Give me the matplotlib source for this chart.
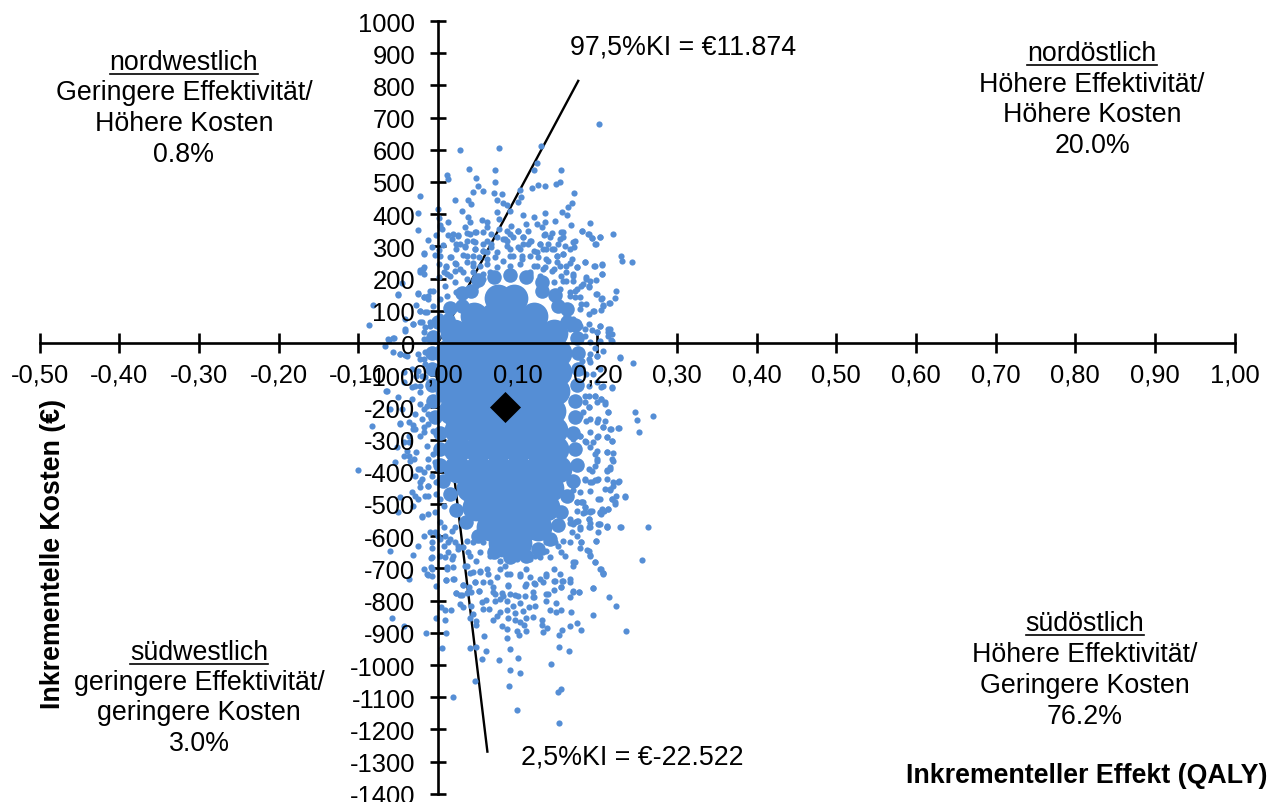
import matplotlib
matplotlib.use("Agg")
import matplotlib.pyplot as plt
from matplotlib.lines import Line2D

plt.rcParams['font.family'] = ['Liberation Sans', 'DejaVu Sans']

W, H = 1284, 803
BLUE = '#558ED5'

x_ticks = [-0.5, -0.4, -0.3, -0.2, -0.1, 0.0, 0.1, 0.2, 0.3, 0.4, 0.5, 0.6, 0.7, 0.8, 0.9, 1.0]
y_ticks = list(range(-1400, 1001, 100))
mean_point = (0.084, -199)
upper_ci = (0.176, 814)
lower_ci = (0.062, -1269)

north_points = [
    (.2015,680),(.129,613),(.0765,605),(.027,600),(.011,522),(.012,510),(.039,540),(.072,536),(.124,560),(.121,536),
    (.154,536),(.048,511),(.072,499),(.153,501),(.148,495),(.118,481),(.125,490),(.134,487),(.05,487),(.044,468),
    (.057,473),(.07,466),(.08,464),(.103,475),(-.023,458),(.021,445),(.038,445),(.041,433),(.074,443),(.081,435),
    (.104,452),(.101,437),(.086,429),(.171,467),(.168,436),(.163,423),(.156,408),(.162,396),(0,416),(-.025,405),
    (.03,411),(.09,411),(.074,406),(.134,403),(.107,397),(.001,389),(.012,377),(.038,390),(.055,383),(.076,385),
    (.12,390),(.147,378),(.167,367),(.191,374),(.181,348),(.188,337),(.193,327),(.203,329),(.22,338),(.197,306),
    (.23,270),(.231,254),(.244,252),(-.025,352),(.003,367),(.005,354),(.012,334),(-.003,336),(-.012,320),(-.008,297),
    (.006,305),(.001,290),(-.017,277),(-.004,273),(.003,271),(.001,246),(-.017,235),(-.023,226),(-.018,215),(.01,237),
    (.001,204),(-.045,186),(-.05,150),(-.082,118),(-.086,57),(-.025,155),(-.017,142),(-.027,119),(-.023,100),(-.02,64),
    (-.041,75),(-.031,59),(-.041,38),(-.066,-10),(-.061,9),(-.055,14),(.206,244),(.196,240),(.184,252),(.206,213),
    (.198,197),(.224,161),(.199,151),(.206,139),(.222,141),(.215,123),(.207,119),(.204,104),(.196,99),(.19,89),
    (.178,106),(.216,43),(.214,35),(.203,52),(.199,33),(.217,10),
    (.019,337),(.025,335),(.036,342),(.046,344),(.04,377),(.061,375),(.061,359),(.076,354),(.086,349),(.092,364),
    (.101,349),(.111,369),(.124,369),(.13,359),(.134,375),(.143,342),(.133,335),(.155,344),(.153,323),(.17,313),
    (.166,292),(.145,292),(.149,271),(.157,276),(.166,250),(.174,235),(.161,219),(.17,209),(.186,199),(.189,178),
    (.18,178),(.172,162),(.178,142),(.166,147),(.157,194),(.153,240),(.136,292),(.128,307),(.117,318),(.107,328),
    (.094,328),(.084,323),(.074,328),(.061,318),(.044,318),(.034,302),(.023,307),(.015,266),(.021,250),(.028,230),
    (.015,209),(.021,188),(.009,178),(-.006,162),(-.012,147),(.003,137),(.011,147),(-.006,116),(-.014,95),(.003,85),
    (-.01,64),(-.018,33),(.007,219),(.036,271),(.046,292),(.053,240),(.044,250),(.067,297),(.057,287),(.086,302),
    (.103,292),(.113,307),(.124,282),(.138,256),(.145,230),(.132,230),(.12,240),(.105,261),(.09,271),(.074,282),
    (.061,261),(.044,219),(.036,199),(.023,157),(.019,116),(.013,75),(.003,43),(-.002,23),(.153,168),(.145,188),
    (.128,209),(.115,219),(.065,219),(.057,199),(.048,178),(.153,105),(.161,85),(.17,75),(.166,43),(.178,54),
    (.184,23),(.174,12),(.191,2),
]

north_band_points = [
    (.003,359),(.034,361),(.04,339),(.048,344),(.057,344),(.067,339),(.082,323),(.09,339),(.101,349),(.113,349),
    (.134,339),(.14,328),(.157,344),(.157,328),(.172,318),(.171,297),(.181,349),(.189,339),(.193,326),(.203,328),
    (.198,308),(.017,323),(.025,333),(.036,318),(.046,313),(.057,308),(.086,318),(.107,328),(.115,318),(.107,308),
    (.128,308),(.138,308),(.151,308),(.159,302),(.028,308),(.023,292),(.034,297),(.046,292),(.057,287),(.067,308),
    (.09,292),(.101,297),(.12,287),(.132,292),(.143,292),(.149,271),(.157,276),(.168,261),(.184,251),(.197,240),
    (.206,243),(.016,266),(.032,274),(.044,271),(.051,266),(.061,282),(.071,266),(.082,256),(.094,271),(.105,271),
    (.115,271),(.126,266),(.136,261),(.149,251),(.161,240),(.174,235),(.01,240),(.023,245),(.036,251),(.044,240),
    (.061,245),(.074,235),(.09,240),(.103,245),(.124,240),(.134,235),(.143,225),(.155,209),(.17,214),(.186,204),
    (.206,214),(.191,194),(.011,214),(.021,225),(.032,220),(.057,214),(.069,214),(.115,214),(.161,194),(.17,194),
    (.182,183),(.19,173),(.174,168),(.198,152),(.205,137),(.216,123),(.207,116),(.195,100),(.186,121),(.18,121),
    (.172,142),(.166,157),
]

west_band_points = [
    (-.017,280),(-.019,230),(-.022,219),(-.05,152),(-.025,152),(-.018,142),(-.012,137),(-.01,162),(-.022,100),(-.016,95),
    (-.032,59),(-.022,64),(-.016,49),(-.01,54),(-.041,44),(-.056,15),(-.063,12),(-.018,12),(-.012,12),(-.006,28),
    (-.048,-34),(-.041,-37),(-.016,-29),(-.018,-50),(-.025,-86),(-.02,-101),(-.029,-132),(-.022,-132),(-.065,-148),(-.06,-205),
    (-.045,-205),(-.018,-205),(-.012,-220),(-.048,-248),(-.037,-246),(-.031,-255),(-.018,-262),(-.029,-267),(-.037,-288),(-.023,-288),
    (-.043,-308),(-.039,-334),(-.036,-350),(-.03,-360),(-.054,-370),(-.025,-391),(-.018,-401),(-.012,-360),(-.023,-433),(-.012,-443),
    (-.029,-474),(-.016,-474),(-.048,-479),(-.02,-536),(-.031,-505),
]

east_band_points = [
    (.189,59),(.203,54),(.193,41),(.199,33),(.214,43),(.218,28),(.214,23),(.203,7),(.218,7),(.184,43),
    (.197,-14),(.191,-34),(.199,-39),(.228,-45),(.181,-55),(.191,-60),(.203,-81),(.186,-96),(.199,-122),(.207,-133),
    (.218,-138),(.19,-133),(.189,-164),(.197,-166),(.205,-174),(.21,-184),(.214,-215),(.185,-184),(.189,-200),(.182,-215),
    (.191,-236),(.201,-236),(.207,-262),(.217,-267),(.227,-264),(.212,-293),(.191,-277),(.199,-293),(.219,-303),(.195,-308),
    (.186,-308),(.199,-334),(.178,-288),(.212,-339),(.22,-341),(.218,-360),(.199,-360),(.212,-396),(.216,-391),(.193,-396),
    (.197,-427),(.185,-427),(.191,-433),(.201,-422),(.212,-422),(.22,-433),(.227,-430),(.21,-453),(.216,-455),(.224,-474),
    (.235,-476),(.218,-484),(.191,-459),(.174,-495),(.182,-495),(.185,-510),(.203,-484),(.191,-524),(.214,-515),(.208,-521),
    (.204,-531),(.222,-500),(.189,-547),(.174,-521),(.212,-567),(.23,-572),(.202,-562),(.191,-572),(.178,-578),
]

middle_points = [
    (-.048,-34),(-.056,-29),(-.039,-39),(-.025,-34),(-.012,-29),(-.023,-50),(-.016,-65),(-.033,-81),(-.043,-91),(-.027,-101),
    (-.016,-107),(-.043,-122),(-.033,-138),(-.023,-153),(-.064,-148),(-.05,-169),(-.033,-174),(-.023,-189),(-.014,-195),(-.029,-220),
    (-.02,-236),(-.012,-251),(-.083,-259),(-.048,-251),(-.031,-267),(-.018,-277),(-.006,-272),(-.052,-324),(-.037,-308),(-.027,-340),
    (-.014,-319),(-.006,-345),(-.043,-350),(-.035,-365),(-.023,-391),(-.012,-386),(-.101,-393),(-.004,-371),(-.029,-412),(-.02,-422),
    (-.008,-412),(-.023,-448),(-.012,-443),(-.002,-433),(-.033,-464),(-.025,-484),(-.012,-474),(-.002,-469),(.003,-484),(-.05,-526),
    (-.02,-539),(-.012,-531),(-.004,-526),(.007,-505),(.015,-474),(-.018,-598),(-.01,-588),(0,-598),(-.008,-619),(-.025,-629),
    (-.06,-647),(-.031,-658),(-.008,-666),(.007,-629),(.015,-609),(.021,-572),(-.018,-702),(-.008,-702),(-.012,-722),(.011,-702),
    (.003,-660),(.019,-660),(.025,-629),(.038,-650),(.036,-691),(.048,-676),(.061,-702),(.074,-650),(.084,-691),(.099,-670),
    (.111,-702),(.122,-660),(.132,-650),(.145,-702),(.136,-619),(.151,-629),(.166,-619),(.17,-681),(.18,-619),(.189,-645),
    (.191,-660),(.197,-681),(.203,-702),(.207,-717),(.256,-675),(.264,-571),(.229,-572),(.212,-572),(.201,-562),(.189,-572),
    (.198,-614),(.178,-572),(.17,-562),(.166,-546),(.174,-552),(.184,-526),(.18,-495),(.193,-523),(.203,-526),(.214,-515),
    (.222,-495),(.235,-477),(.218,-484),(.216,-453),(.22,-443),(.226,-431),(.201,-484),(.199,-427),(.193,-433),(.184,-422),
    (.178,-464),(.17,-458),(.189,-391),(.197,-381),(.212,-393),(.216,-386),(.22,-365),(.212,-340),(.199,-365),(.197,-345),
    (.191,-324),(.184,-303),(.17,-298),(.166,-283),(.178,-288),(.201,-288),(.212,-293),(.218,-303),(.216,-267),(.226,-265),
    (.207,-262),(.209,-241),(.199,-246),(.186,-241),(.178,-226),(.189,-200),(.199,-184),(.205,-174),(.209,-189),(.214,-215),
    (.247,-213),(.25,-238),(.27,-226),(.252,-277),(.17,-179),(.184,-164),(.197,-164),(.205,-138),(.218,-141),(.245,-63),
    (.228,-47),(.207,-24),(.199,-39),(.189,-50),(.178,-81),(.195,-96),
]

south_band_points = [
    (.174,-495),(.181,-495),(.184,-510),(.182,-528),(.191,-523),(.206,-516),(.203,-528),(.166,-559),(.172,-557),(.176,-552),
    (.189,-547),(.191,-559),(.203,-562),(.212,-572),(.201,-588),(.168,-588),(.174,-600),(.198,-614),(.18,-619),(.178,-638),
    (.187,-643),(.191,-658),(.197,-681),(.205,-702),(.207,-714),(.172,-681),(.169,-692),(.159,-660),(.155,-650),(.14,-666),
    (.128,-666),(.115,-671),(.103,-660),(.09,-660),(.078,-676),(.065,-660),(.053,-650),(.04,-660),(.032,-635),(.013,-650),
    (.009,-666),(.017,-671),(.011,-697),(.019,-697),(.034,-692),(.044,-712),(.053,-707),(.063,-717),(.078,-702),(.09,-717),
    (.103,-717),(.115,-728),(.128,-733),(.136,-723),(.147,-738),(.157,-738),(.166,-733),(.01,-735),(.02,-733),(.032,-752),
    (.039,-759),(.051,-769),(.046,-741),(.057,-741),(.069,-759),(.088,-752),(.109,-756),(.12,-745),(.145,-766),(.155,-759),
    (.195,-762),(.17,-769),(.177,-772),(.023,-776),(.03,-783),(.038,-774),(.071,-779),(.082,-785),(.097,-783),(.12,-790),
    (.136,-780),(.003,-557),(.007,-572),(.017,-583),(-.004,-588),(.009,-598),(.003,-609),(.021,-619),(.025,-640),(-.007,-638),
    (-.009,-669),(-.009,-697),(.013,-619),(.136,-645),(.147,-619),(.157,-614),(.138,-614),(.124,-629),(.107,-619),(.09,-635),
    (.074,-629),(.057,-619),(.044,-619),(.036,-614),
]

south_points = [
    (-.058,-854),(-.043,-880),(-.015,-901),(.01,-901),(.009,-859),(-.002,-853),(.005,-946),(.019,-1099),(.04,-948),(.048,-945),
    (.06,-956),(.058,-909),(.046,-1051),(.055,-981),(.076,-985),(.091,-951),(.101,-977),(.091,-1015),(.103,-1026),(.089,-1064),
    (.099,-1141),(.142,-997),(.152,-943),(.165,-955),(.15,-1083),(.154,-1073),(.152,-1180),(.236,-895),(.195,-846),(.224,-818),
    (.215,-789),(.195,-761),(.179,-890),(.175,-869),(.166,-878),(.156,-892),(.152,-907),(.167,-836),(.155,-830),(.148,-834),
    (.141,-830),(.148,-809),(.137,-885),(.132,-898),(.13,-876),(.13,-860),(.119,-852),(.111,-893),(.102,-908),(.099,-893),
    (.108,-876),(.11,-855),(.103,-866),(.097,-859),(.088,-853),(.097,-840),(.086,-888),(.086,-916),(.08,-880),(.069,-860),
    (.074,-847),(.078,-834),(.087,-828),(.107,-831),(.114,-819),(.122,-816),(.094,-818),(.103,-809),(.086,-800),(.078,-795),
    (.071,-802),(.064,-826),(.057,-826),(.06,-797),(.055,-805),(.051,-769),(.042,-772),(.037,-777),(.031,-750),(.023,-777),
    (.028,-782),(.027,-810),(.032,-821),(.041,-816),(.04,-855),(.044,-842),(.048,-862),(.048,-876),(.004,-819),(.009,-828),
    (.016,-830),(-.003,-756),(.01,-736),(.019,-733),(-.008,-723),(-.037,-733),(-.014,-718),(.069,-774),(.08,-777),(.09,-780),
    (.101,-785),(.109,-787),(.119,-790),(.119,-772),(.138,-780),(.135,-802),(.155,-759),(.166,-790),(.169,-772),(.177,-772),
    (.166,-741),(.156,-738),(.145,-738),(.132,-743),(.122,-749),(.111,-749),(.088,-754),(.065,-743),(.046,-741),(.053,-712),
    (.074,-728),(.103,-723),(.136,-718),(.207,-714),(.153,-718),(.086,-718),(.04,-714),
]

# Overplotted centre of the cloud, where single dots can no longer be told apart
core_points = [
    (.075,140),(.095,140),
    (.045,85),(.07,85),(.095,85),(.12,85),
    (.02,30),(.045,30),(.07,30),(.095,30),(.12,30),(.145,30),
    (.012,-30),(.037,-30),(.062,-30),(.087,-30),(.112,-30),(.137,-30),(.15,-30),
    (.012,-90),(.037,-90),(.062,-90),(.087,-90),(.112,-90),(.137,-90),(.15,-90),
    (.014,-150),(.037,-150),(.062,-150),(.087,-150),(.112,-150),(.137,-150),(.148,-150),
    (.018,-210),(.043,-210),(.068,-210),(.093,-210),(.118,-210),(.143,-210),
    (.025,-270),(.05,-270),(.075,-270),(.1,-270),(.125,-270),(.145,-270),
    (.024,-330),(.05,-330),(.075,-330),(.1,-330),(.125,-330),(.147,-330),
    (.024,-390),(.05,-390),(.075,-390),(.1,-390),(.125,-390),(.15,-390),
    (.04,-450),(.065,-450),(.09,-450),(.115,-450),(.14,-450),
    (.048,-510),(.07,-510),(.095,-510),(.12,-510),(.135,-510),
    (.065,-570),(.09,-570),(.11,-570),(.125,-570),
    (.08,-620),(.1,-620),
]

# Nearly closed rim around the centre of the cloud
rim_points = [
    (.05,195),(.07,205),(.09,210),(.11,205),(.13,190),
    (.03,155),(.042,160),(.13,160),(.147,150),
    (.015,110),(.03,115),(.15,115),(.162,105),
    (.0,65),(.012,70),(.162,65),(.172,55),
    (-.006,20),(.174,15),(-.008,-30),(.176,-30),(-.008,-80),(.176,-80),(-.008,-130),(.174,-130),
    (-.006,-180),(.172,-180),(-.004,-230),(.172,-230),(.002,-280),(.17,-280),(.002,-330),(.172,-330),
    (.003,-380),(.174,-380),(.006,-430),(.17,-430),(.015,-470),(.162,-475),(.022,-520),(.155,-525),
    (.035,-555),(.15,-565),(.05,-600),(.14,-610),(.07,-650),(.09,-665),(.11,-660),(.125,-640),
]

quadrants = [
    (184, [63, 93, 124, 155], ['nordwestlich', 'Geringere Effektivität/', 'Höhere Kosten', '0.8%']),
    (1092, [54, 85, 115, 146], ['nordöstlich', 'Höhere Effektivität/', 'Höhere Kosten', '20.0%']),
    (1085, [624, 655, 686, 717], ['südöstlich', 'Höhere Effektivität/', 'Geringere Kosten', '76.2%']),
    (199, [653, 683, 713, 744], ['südwestlich', 'geringere Effektivität/', 'geringere Kosten', '3.0%']),
]

fig = plt.figure(figsize=(W / 100, H / 100), dpi=100)
xlim = ((0 - 438) / 796.7, (W - 438) / 796.7)
ylim = ((344 - H) / 0.322, 344 / 0.322)

ax = fig.add_axes([0, 0, 1, 1])
ax.set_xlim(xlim)
ax.set_ylim(ylim)
ax.patch.set_visible(False)
for s in ('top', 'right'):
    ax.spines[s].set_visible(False)
ax.spines['left'].set_position(('data', 0))
ax.spines['bottom'].set_position(('data', 0))
ax.spines['left'].set_bounds(y_ticks[0], y_ticks[-1])
ax.spines['bottom'].set_bounds(x_ticks[0], x_ticks[-1])
ax.spines['left'].set_linewidth(1.9)
ax.spines['bottom'].set_linewidth(1.9)
ax.set_axisbelow(True)
ax.set_xticks(x_ticks)
ax.set_yticks(y_ticks)
ax.tick_params(axis='x', direction='inout', length=15, width=1.9, labelbottom=False)
ax.tick_params(axis='y', direction='inout', length=12, width=1.9, labelleft=False)

ax.plot([0, upper_ci[0]], [0, upper_ci[1]], color='black', lw=1.7, zorder=1)
ax.plot([0, lower_ci[0]], [0, lower_ci[1]], color='black', lw=1.7, zorder=1)

ax.scatter([p[0] for p in core_points], [p[1] for p in core_points], s=400, color=BLUE, linewidths=0, zorder=2)
ax.scatter([p[0] for p in rim_points], [p[1] for p in rim_points], s=110, color=BLUE, linewidths=0, zorder=2)
for pts in (north_points, north_band_points, west_band_points, east_band_points,
            middle_points, south_band_points, south_points):
    ax.scatter([p[0] for p in pts], [p[1] for p in pts], s=20, color=BLUE, linewidths=0, zorder=2)

# Overlay axes: tick labels and the mean marker sit above the cloud
top = fig.add_axes([0, 0, 1, 1], sharex=ax, sharey=ax)
top.patch.set_visible(False)
for s in top.spines.values():
    s.set_visible(False)
top.spines['left'].set_position(('data', 0))
top.spines['bottom'].set_position(('data', 0))
top.tick_params(axis='x', length=0, pad=14, labelsize=18.4)
top.tick_params(axis='y', length=0, pad=16.4, labelsize=18.4)
top.set_xticks(x_ticks)
top.set_yticks(y_ticks)
top.set_xticklabels([f'{v:.2f}'.replace('.', ',') for v in x_ticks])
top.set_yticklabels([str(v) for v in y_ticks])
top.scatter([mean_point[0]], [mean_point[1]], marker='D', s=250, color='black', linewidths=0, zorder=5)


def put(px, py, s, **kw):
    kw.setdefault('fontsize', 19.3)
    kw.setdefault('va', 'center')
    kw.setdefault('color', 'black')
    return fig.text(px / W, 1 - py / H, s, **kw)


for cx, rows, lines in quadrants:
    for i, (py, line) in enumerate(zip(rows, lines)):
        t = put(cx, py, line, ha='center')
        if i == 0:
            bb = t.get_window_extent(fig.canvas.get_renderer())
            fig.add_artist(Line2D([bb.x0 / W, bb.x1 / W], [1 - (py + 12) / H] * 2,
                                  color='black', lw=1.2))

put(570, 47, '97,5%KI = €11.874', ha='left')
put(521, 758, '2,5%KI = €-22.522', ha='left')
put(1268, 776, 'Inkrementeller Effekt (QALY)', ha='right', fontweight='bold')
put(53, 554, 'Inkrementelle Kosten (€)', ha='center', rotation=90, fontweight='bold')

fig.savefig('out.png', dpi=100)
